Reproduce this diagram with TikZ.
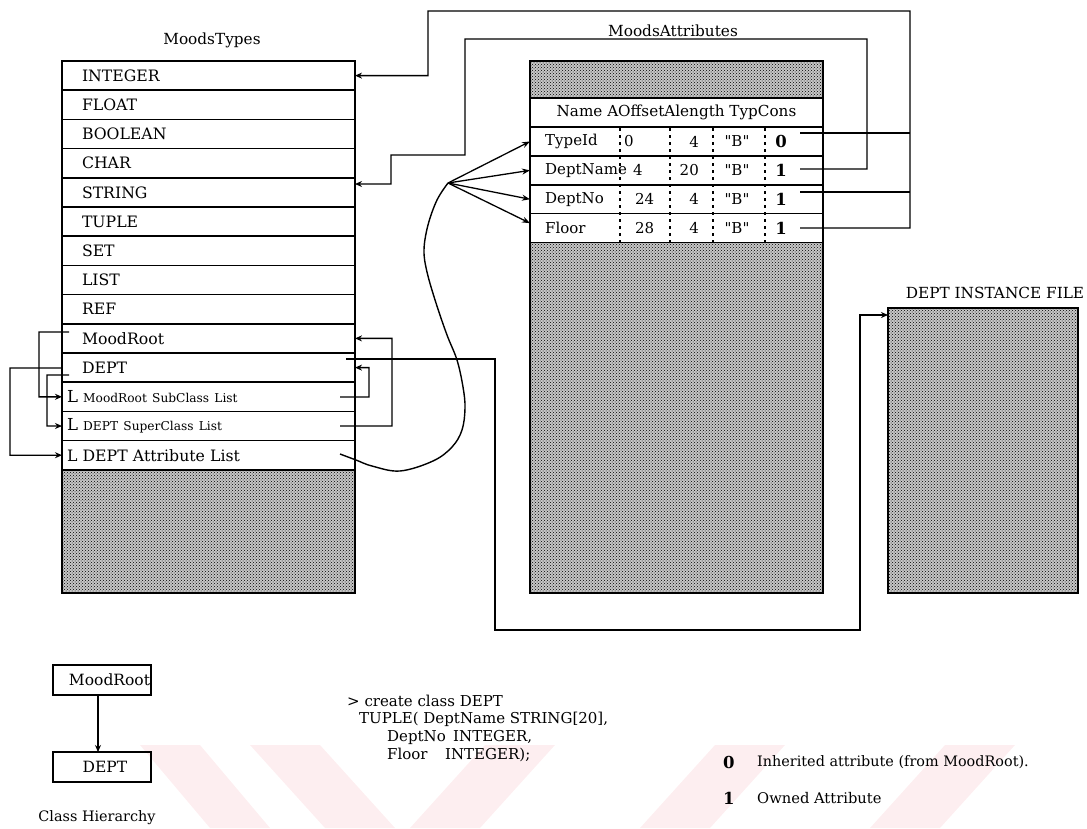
\documentclass[tikz,border=0pt]{standalone}
\usepackage{fontspec}
\setmainfont{DejaVu Serif}
\usetikzlibrary{patterns,arrows.meta}
\newcommand\smalltxt{\fontsize{12.2}{13}\selectfont}
\newcommand\bigtxt{\fontsize{16.5}{17}\selectfont}
\newcommand\qB{\textquotedbl B\textquotedbl}
\definecolor{wmpink}{HTML}{FDEEF0}
\begin{document}
\begin{tikzpicture}[x=1pt,y=-1pt,
  hatch/.style={draw, line width=1.6pt, outer sep=0pt, preaction={fill=black!22}, pattern=crosshatch dots, pattern color=black, inner sep=0pt, anchor=north west},
  trow/.style={draw, line width=1.5pt, outer sep=0pt, fill=white, minimum width=293pt, minimum height=29.2pt, text width=253pt, inner xsep=20pt, inner ysep=0pt, align=left, font=\fontsize{15.7}{17}\selectfont, anchor=north west},
  lrow/.style={trow, text width=283pt, inner xsep=5pt},
  arow/.style={draw, line width=1.5pt, outer sep=0pt, fill=white, minimum width=293pt, minimum height=28.9pt, inner sep=0pt, anchor=north west, font=\fontsize{15.2}{17}\selectfont},
  cell/.style={inner sep=0pt, font=\fontsize{15}{17}\selectfont},
  cons/.style={inner sep=0pt, font=\fontsize{16.5}{18}\selectfont\bfseries},
  lbl/.style={inner sep=0pt, font=\fontsize{15.3}{17}\selectfont},
  code/.style={inner sep=0pt, anchor=west, font=\fontsize{15}{17}\selectfont},
  conn/.style={line width=1.4pt},
  arr/.style={conn, -{Stealth[length=7pt,width=6pt]}},
  fanarr/.style={line width=1.3pt, -{Stealth[length=8pt,width=6pt,open]}},
  divider/.style={line width=1.4pt, dash pattern=on 3pt off 4pt},
  hbox/.style={draw, line width=1.5pt, outer sep=0pt, minimum width=98pt, minimum height=30pt, inner xsep=1pt, inner ysep=0pt, font=\fontsize{15.5}{17}\selectfont},
  wm/.style={fill=wmpink, draw=none}
]
\useasboundingbox (0,0) rectangle (1087,828);

% faint watermark stripes
\fill[wm] (140,745) -- (200,745) -- (270,828) -- (210,828) -- cycle;
\fill[wm] (250,745) -- (320,745) -- (395,828) -- (325,828) -- cycle;
\fill[wm] (410,828) -- (480,828) -- (555,745) -- (485,745) -- cycle;
\fill[wm] (640,828) -- (710,828) -- (785,745) -- (715,745) -- cycle;
\fill[wm] (870,828) -- (940,828) -- (1015,745) -- (945,745) -- cycle;

% ---------------- MoodsTypes table ----------------
\node[lbl] (lblT) at (212,40) {MoodsTypes};
\node[hatch, minimum width=293pt, minimum height=532pt] (mt) at (62,61) {};
\node[trow] (tInt) at (62,61) {INTEGER};
\node[trow] (tFlt) at (tInt.south west) {FLOAT};
\node[trow] (tBool) at (tFlt.south west) {BOOLEAN};
\node[trow] (tChar) at (tBool.south west) {CHAR};
\node[trow] (tStr) at (tChar.south west) {STRING};
\node[trow] (tTup) at (tStr.south west) {TUPLE};
\node[trow] (tSet) at (tTup.south west) {SET};
\node[trow] (tList) at (tSet.south west) {LIST};
\node[trow] (tRef) at (tList.south west) {REF};
\node[trow] (tMR) at (tRef.south west) {MoodRoot};
\node[trow] (tDept) at (tMR.south west) {DEPT};
\node[lrow] (tSub) at (tDept.south west) {{\bigtxt L} {\smalltxt MoodRoot SubClass List}};
\node[lrow] (tSup) at (tSub.south west) {{\bigtxt L} {\smalltxt DEPT SuperClass List}};
\node[lrow] (tAtt) at (tSup.south west) {L DEPT Attribute List};

% ---------------- MoodsAttributes table ----------------
\node[lbl, anchor=base] (lblA) at (673,36) {MoodsAttributes};
\node[hatch, minimum width=293pt, minimum height=532pt] (ma) at (530,61) {};
\node[arow, minimum height=29pt] (aHd) at (530,98) {Name AOffsetAlength TypCons};
\node[arow] (aR1) at (aHd.south west) {};
\node[arow] (aR2) at (aR1.south west) {};
\node[arow] (aR3) at (aR2.south west) {};
\node[arow] (aR4) at (aR3.south west) {};
\foreach \xx in {620,670,713,765} \draw[divider] (\xx,128) -- (\xx,242);

\node[cell, anchor=west] (n1) at (545,141.5) {TypeId};
\node[cell, anchor=west] (n2) at (545,170.4) {DeptName};
\node[cell, anchor=west] (n3) at (545,199.3) {DeptNo};
\node[cell, anchor=west] (n4) at (545,228.2) {Floor};
\node[cell, anchor=west] (o1) at (624,141.5) {0};
\node[cell, anchor=west] (o2) at (633,170.4) {4};
\node[cell, anchor=west] (o3) at (635,199.3) {24};
\node[cell, anchor=west] (o4) at (635,228.2) {28};
\node[cell, anchor=east] (l1) at (699,141.5) {4};
\node[cell, anchor=east] (l2) at (699,170.4) {20};
\node[cell, anchor=east] (l3) at (699,199.3) {4};
\node[cell, anchor=east] (l4) at (699,228.2) {4};
\node[cell] (y1) at (737,141.5) {\qB};
\node[cell] (y2) at (737,170.4) {\qB};
\node[cell] (y3) at (737,199.3) {\qB};
\node[cell] (y4) at (737,228.2) {\qB};
\node[cons] (c1) at (781,141.5) {0};
\node[cons] (c2) at (781,170.4) {1};
\node[cons] (c3) at (781,199.3) {1};
\node[cons] (c4) at (781,228.2) {1};

% ---------------- DEPT INSTANCE FILE ----------------
\node[lbl] (lblI) at (995,293) {DEPT INSTANCE FILE};
\node[hatch, minimum width=190pt, minimum height=285pt] (inst) at (888,308) {};

% ---------------- connectors: type references ----------------
\coordinate (k0) at (800,133);
\coordinate (k1) at (800,169);
\coordinate (k2) at (800,192);
\coordinate (k3) at (800,228);
\draw[arr] (k3) -| (910,11) -| (428,75.6) -- (tInt.east);
\draw[conn] (k0) -- (k0 -| 910,0);
\draw[conn] (k2) -- (k2 -| 910,0);
\draw[arr] (k1) -| (867,39) -| (465,155) -| (391,184) -- ([yshift=8.4pt]tStr.east);

% ---------------- connectors: class lists ----------------
\coordinate (sSub) at (340,397);
\coordinate (sSup) at (340,426);
\coordinate (sAtt) at (340,454);
\draw[arr] (sSup) -| (392,338.4) -- (tMR.east);
\draw[arr] (sSub) -| (369,367.6) -- (tDept.east);
\coordinate (mrL) at (69,332);
\coordinate (dpL1) at (69,375);
\coordinate (dpL2) at (62,368);
\draw[arr] (mrL) -| (39,396.8) -- (tSub.west);
\draw[arr] (dpL1) -| (47,426) -- (tSup.west);
\draw[arr] (dpL2) -| (10,455.2) -- (tAtt.west);

% DEPT -> instance file
\coordinate (dInst) at (346,359);
\draw[arr] (dInst) -| (495,630) -| (860,315) -- (inst.north west |- 0,315);

% attribute list -> attributes (curve + fan)
\coordinate (fan) at (448,183);
\draw[conn] plot[smooth, tension=0.6] coordinates {(sAtt) (356,460) (372,466) (400,471) (433,461) (452,447) (462,430) (465,408) (463,387) (457,360) (447,335) (436,303) (427,272) (424,250) (428,225) (437,200) (fan)};
\draw[fanarr] (fan) -- (aR1.west);
\draw[fanarr] (fan) -- (aR2.west);
\draw[fanarr] (fan) -- (aR3.west);
\draw[fanarr] (fan) -- ([yshift=5pt]aR4.west);

% ---------------- class hierarchy ----------------
\node[hbox, text width=96pt, align=right] (hMR) at (102,680) {MoodRoot};
\node[hbox] (hDept) at (102,767) {\hspace{6pt}DEPT};
\draw[arr] ([xshift=-4pt]hMR.south) -- ([xshift=-4pt]hDept.north);
\node[lbl, font=\fontsize{14.4}{16}\selectfont] (hLbl) at (97,818) {Class Hierarchy};

% ---------------- code ----------------
\node[code] (cd1) at (347,701) {> create class DEPT};
\node[code] (cd2) at (359,719) {TUPLE( DeptName STRING[20],};
\node[code] (cd3) at (387,737) {\makebox[66pt][l]{DeptNo}INTEGER,};
\node[code] (cd4) at (387,755) {\makebox[58pt][l]{Floor}INTEGER);};

% ---------------- legend ----------------
\node[cons, anchor=west] (lg0) at (723,762) {0};
\node[code, font=\fontsize{14.4}{16}\selectfont] (lg0t) at (757,762) {Inherited attribute (from MoodRoot).};
\node[cons, anchor=west] (lg1) at (723,798) {1};
\node[code, font=\fontsize{14.7}{16}\selectfont] (lg1t) at (757,798) {Owned Attribute};
\end{tikzpicture}
\end{document}
